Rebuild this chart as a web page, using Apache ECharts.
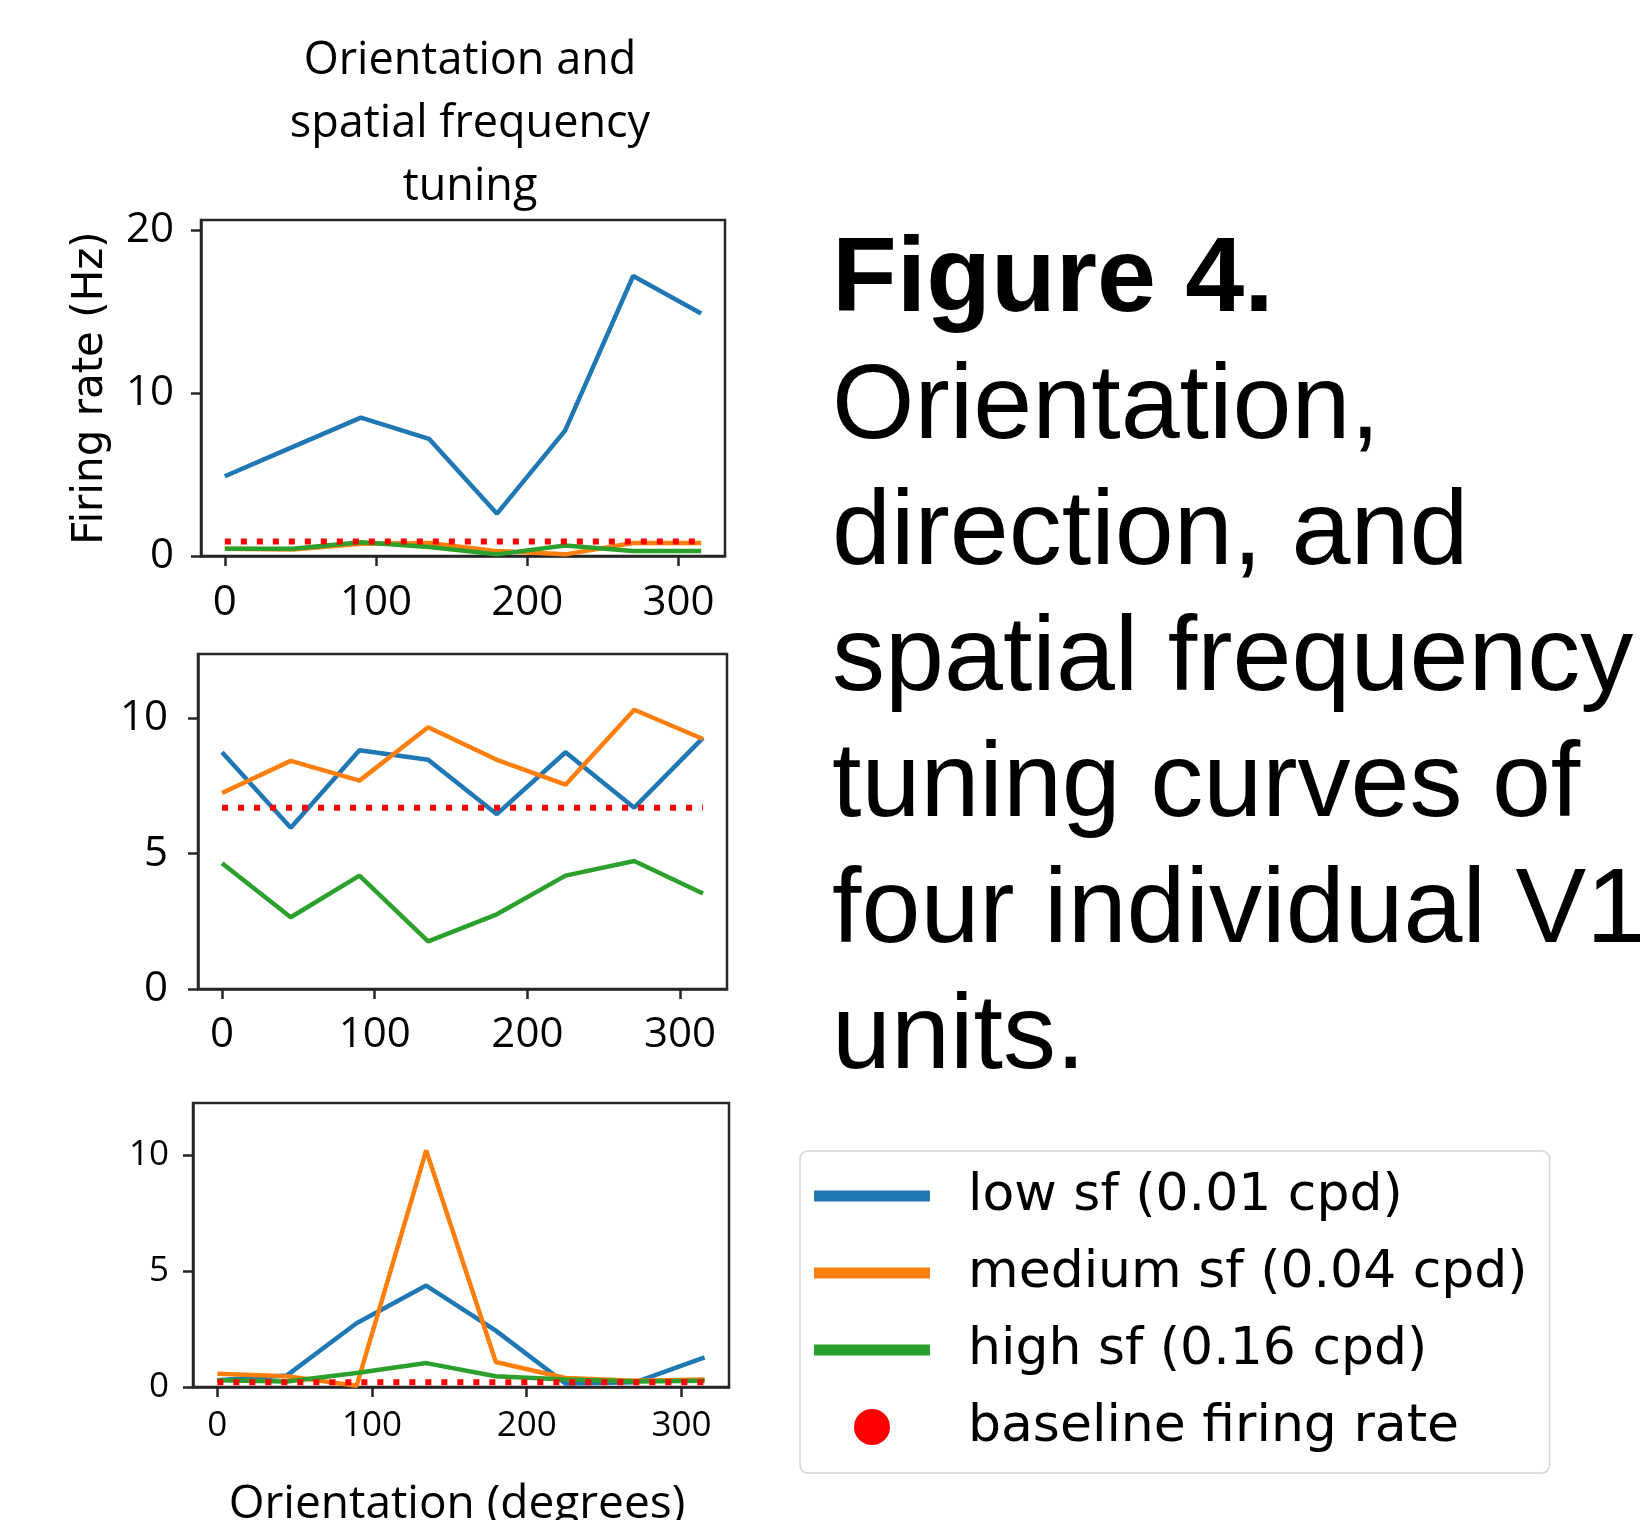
<!DOCTYPE html>
<html>
<head>
<meta charset="utf-8">
<title>Figure 4</title>
<script src="https://cdn.jsdelivr.net/npm/echarts@6/dist/echarts.min.js"></script>
<style>
  html, body { margin: 0; padding: 0; background: #fff; }
  #chart { width: 1640px; height: 1520px; }
</style>
</head>
<body>
<div id="chart"></div>
<script>
// orientations (degrees)
let angles = [0, 45, 90, 135, 180, 225, 270, 315]

// unit 1
let low1 = [4.9, 6.7, 8.5, 7.2, 2.6, 7.7, 17.2, 14.9]
let med1 = [0.45, 0.4, 0.75, 0.8, 0.3, 0.1, 0.8, 0.8]
let high1 = [0.45, 0.45, 0.85, 0.55, 0.1, 0.65, 0.3, 0.3]
let base1 = 0.89

// unit 2
let low2 = [8.75, 5.96, 8.82, 8.47, 6.46, 8.75, 6.7, 9.28]
let med2 = [7.24, 8.43, 7.7, 9.67, 8.47, 7.55, 10.32, 9.24]
let high2 = [4.65, 2.65, 4.19, 1.76, 2.76, 4.19, 4.73, 3.53]
let base2 = 6.7

// unit 3
let low3 = [0.29, 0.5, 2.75, 4.37, 2.43, 0.15, 0.2, 1.28]
let med3 = [0.57, 0.46, 0.05, 10.2, 1.08, 0.39, 0.27, 0.32]
let high3 = [0.29, 0.24, 0.6, 1.03, 0.46, 0.32, 0.24, 0.27]
let base3 = 0.2

let xTicks = [0, 100, 200, 300]
let yTicks = [[0, 10, 20], [0, 5, 10], [0, 5, 10]]

let seriesNames = ['low sf (0.01 cpd)', 'medium sf (0.04 cpd)', 'high sf (0.16 cpd)', 'baseline firing rate']
let titleText = 'Orientation and\nspatial frequency\ntuning'
let yName = 'Firing rate (Hz)'
let xName = 'Orientation (degrees)'
let captionHead = 'Figure 4.'
let captionLines = ['Orientation,', 'direction, and', 'spatial frequency', 'tuning curves of', 'four individual V1', 'units.']

let units = [
  { low: low1, med: med1, high: high1, base: base1 },
  { low: low2, med: med2, high: high2, base: base2 },
  { low: low3, med: med3, high: high3, base: base3 }
]

let colors = ['#1f77b4', '#ff7f0e', '#2ca02c', '#ff0000']

// panel boxes and label sizes
let boxes = [
  { left: 201, top: 220, width: 524, height: 336, font: 42, yMargin: 27, xMargin: 26 },
  { left: 198, top: 654, width: 529, height: 335, font: 42, yMargin: 30, xMargin: 25 },
  { left: 193, top: 1103, width: 536, height: 284, font: 35, yMargin: 24, xMargin: 22 }
]

let tickFont = "'Open Sans', 'Noto Sans', sans-serif"
let spine = '#262626'

let grid = []
let xAxis = []
let yAxis = []
let series = []

units.forEach((u, i) => {
  let b = boxes[i]
  let peak = Math.max(...u.low, ...u.med, ...u.high)
  grid.push({
    left: b.left,
    top: b.top,
    width: b.width,
    height: b.height,
    outerBoundsMode: 'none',
    show: true,
    borderColor: spine,
    borderWidth: 2.5,
    backgroundColor: '#fff'
  })
  xAxis.push({
    type: 'value',
    gridIndex: i,
    min: -15.75,
    max: 330.75,
    axisLine: { show: true, onZero: false, lineStyle: { color: spine, width: 2.5 } },
    splitLine: { show: false },
    axisTick: {
      show: true,
      inside: false,
      length: 10,
      customValues: xTicks,
      lineStyle: { color: spine, width: 2.5 }
    },
    axisLabel: {
      customValues: xTicks,
      fontSize: b.font,
      fontFamily: tickFont,
      color: '#000',
      margin: b.xMargin
    },
    name: i === 2 ? xName : '',
    nameLocation: 'middle',
    nameGap: 95,
    nameTextStyle: { fontSize: 46, fontFamily: tickFont, color: '#000', padding: [0, 8, 0, 0] }
  })
  yAxis.push({
    type: 'value',
    gridIndex: i,
    min: 0,
    max: +(peak * 1.2).toFixed(2),
    axisLine: { show: true, onZero: false, lineStyle: { color: spine, width: 2.5 } },
    splitLine: { show: false },
    axisTick: {
      show: true,
      inside: false,
      length: 10,
      customValues: yTicks[i],
      lineStyle: { color: spine, width: 2.5 }
    },
    axisLabel: {
      customValues: yTicks[i],
      fontSize: b.font,
      fontFamily: tickFont,
      color: '#000',
      margin: b.yMargin
    },
    name: i === 0 ? yName : '',
    nameLocation: 'middle',
    nameRotate: 90,
    nameGap: 89,
    nameTextStyle: { fontSize: 42, fontFamily: "'DejaVu Sans', sans-serif", color: '#000' }
  })
  let curves = [u.low, u.med, u.high]
  curves.forEach((vals, k) => {
    series.push({
      name: seriesNames[k],
      type: 'line',
      xAxisIndex: i,
      yAxisIndex: i,
      data: angles.map((a, j) => [a, vals[j]]),
      symbol: 'none',
      color: colors[k],
      lineStyle: { color: colors[k], width: 4.5 },
      z: 2 + k
    })
  })
  series.push({
    name: seriesNames[3],
    type: 'line',
    xAxisIndex: i,
    yAxisIndex: i,
    data: angles.map(a => [a, u.base]),
    symbol: 'none',
    color: colors[3],
    lineStyle: { color: colors[3], width: 6, type: [6, 10], cap: 'butt' },
    z: 6
  })
})

let lineIcon = 'path://M0 0H116V11H0Z'

let graphic = [{
  type: 'text',
  x: 832,
  y: 282,
  style: {
    text: captionHead,
    font: "bold 106px 'Liberation Sans', Arial, sans-serif",
    fill: '#000',
    verticalAlign: 'middle'
  }
}]
captionLines.forEach((t, k) => {
  graphic.push({
    type: 'text',
    x: 832,
    y: 409 + 126 * k,
    style: {
      text: t,
      font: "106px 'Liberation Sans', Arial, sans-serif",
      fill: '#000',
      verticalAlign: 'middle'
    }
  })
})

let option = {
  animation: false,
  backgroundColor: '#fff',
  title: {
    text: titleText,
    left: 465,
    top: 25,
    textAlign: 'center',
    textStyle: {
      fontSize: 45,
      lineHeight: 63,
      fontWeight: 'normal',
      fontFamily: tickFont,
      color: '#000'
    }
  },
  legend: {
    orient: 'vertical',
    left: 800,
    top: 1151,
    padding: [19, 22, 20, 14],
    itemWidth: 116,
    itemHeight: 36,
    itemGap: 25,
    selectedMode: false,
    borderColor: '#d4d4d4',
    borderWidth: 1.5,
    borderRadius: 8,
    backgroundColor: '#fff',
    itemStyle: { borderWidth: 0 },
    textStyle: {
      fontFamily: "'DejaVu Sans', sans-serif",
      fontSize: 52,
      lineHeight: 52,
      color: '#000',
      padding: [0, 0, 0, 33]
    },
    data: [
      { name: seriesNames[0], icon: lineIcon },
      { name: seriesNames[1], icon: lineIcon },
      { name: seriesNames[2], icon: lineIcon },
      { name: seriesNames[3], icon: 'circle' }
    ]
  },
  grid: grid,
  xAxis: xAxis,
  yAxis: yAxis,
  series: series,
  graphic: graphic
}

let myChart = echarts.init(document.getElementById('chart'))
myChart.setOption(option)
</script>
</body>
</html>
